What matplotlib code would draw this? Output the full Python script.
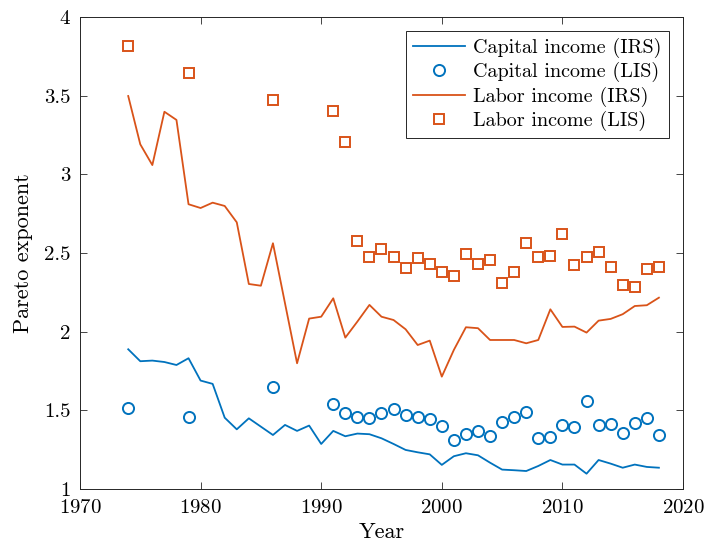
import numpy as np
import matplotlib
matplotlib.use('Agg')
import matplotlib.pyplot as plt

plt.rcParams['font.family'] = 'serif'
plt.rcParams['font.serif'] = ['cmr10']
plt.rcParams['mathtext.fontset'] = 'cm'
plt.rcParams['axes.formatter.use_mathtext'] = True

#IRS series, annual
years_irs = np.arange(1974, 2019)
cap_irs = [1.888, 1.812, 1.816, 1.807, 1.788, 1.831, 1.689, 1.668, 1.453, 1.379,
           1.449, 1.396, 1.343, 1.407, 1.369, 1.403, 1.286, 1.369, 1.335, 1.352,
           1.348, 1.322, 1.286, 1.248, 1.233, 1.220, 1.153, 1.208, 1.227, 1.214,
           1.167, 1.123, 1.119, 1.114, 1.146, 1.184, 1.155, 1.155, 1.097, 1.184,
           1.161, 1.135, 1.155, 1.140, 1.135]
lab_irs = [3.498, 3.191, 3.059, 3.398, 3.346, 2.810, 2.786, 2.820, 2.799, 2.695,
           2.303, 2.292, 2.562, 2.180, 1.799, 2.083, 2.095, 2.212, 1.962, 2.064,
           2.170, 2.095, 2.074, 2.015, 1.915, 1.943, 1.714, 1.884, 2.028, 2.022,
           1.947, 1.947, 1.947, 1.926, 1.947, 2.142, 2.030, 2.032, 1.994, 2.070,
           2.081, 2.111, 2.163, 2.168, 2.216]

#LIS series
years_lis = [1974, 1979, 1986] + list(range(1991, 2019))
cap_lis = [1.513, 1.460, 1.650, 1.542, 1.485, 1.460, 1.453, 1.485, 1.507, 1.470,
           1.456, 1.445, 1.400, 1.312, 1.348, 1.367, 1.335, 1.424, 1.460, 1.492,
           1.326, 1.333, 1.405, 1.396, 1.559, 1.405, 1.411, 1.358, 1.418, 1.453,
           1.341]
lab_lis = [3.818, 3.647, 3.473, 3.405, 3.204, 2.575, 2.477, 2.524, 2.473, 2.403,
           2.471, 2.428, 2.381, 2.352, 2.492, 2.430, 2.456, 2.310, 2.381, 2.566,
           2.477, 2.483, 2.621, 2.422, 2.473, 2.505, 2.409, 2.295, 2.282, 2.397,
           2.409]

blue = '#0072BD'
orange = '#D95319'

fig = plt.figure(figsize=(7.04, 5.5), dpi=100)
ax = fig.add_axes([0.1136, 0.111, 0.8566, 0.858])

ax.plot(years_irs, cap_irs, '-', color=blue, lw=1.3, label='Capital income (IRS)')
ax.plot(years_lis, cap_lis, 'o', color=blue, mfc='none', ms=8, mew=1.4,
        label='Capital income (LIS)')
ax.plot(years_irs, lab_irs, '-', color=orange, lw=1.3, label='Labor income (IRS)')
ax.plot(years_lis, lab_lis, 's', color=orange, mfc='none', ms=6.5, mew=1.4,
        label='Labor income (LIS)')

ax.set_xlim(1970, 2020)
ax.set_ylim(1, 4)
ax.set_xticks(np.arange(1970, 2021, 10))
ax.set_yticks([1, 1.5, 2, 2.5, 3, 3.5, 4])
ax.set_yticklabels(['1', '1.5', '2', '2.5', '3', '3.5', '4'])
ax.tick_params(direction='in', top=True, right=True, length=5, width=0.6,
               colors='#262626', labelsize=15, labelcolor='black', pad=7)
for s in ax.spines.values():
    s.set_color('#262626')
    s.set_linewidth(0.7)

ax.set_xlabel('Year', fontsize=16, labelpad=4)
ax.set_ylabel('Pareto exponent', fontsize=16, labelpad=8)

leg = ax.legend(loc='upper right', fontsize=14.5, fancybox=False, framealpha=1,
                edgecolor='#262626', handlelength=2.6, borderpad=0.35,
                labelspacing=0.2, handletextpad=0.4, borderaxespad=0.7)
leg.get_frame().set_linewidth(0.7)

fig.savefig('out.png', dpi=100)
